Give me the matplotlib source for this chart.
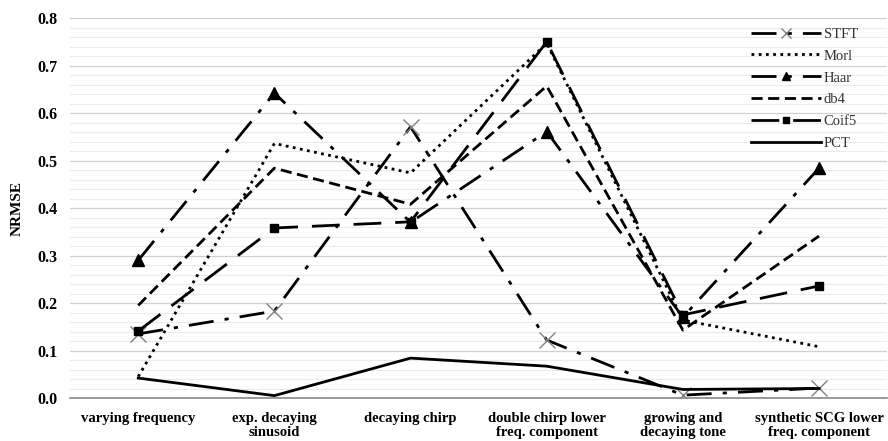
import numpy as np
import matplotlib
matplotlib.use("Agg")
import matplotlib.pyplot as plt
from matplotlib.ticker import MultipleLocator

plt.rcParams['font.family'] = ['Liberation Serif', 'DejaVu Serif']

categories = ["varying frequency", "exp. decaying\nsinusoid", "decaying chirp",
              "double chirp lower\nfreq. component", "growing and\ndecaying tone",
              "synthetic SCG lower\nfreq. component"]

stft = [0.135, 0.183, 0.571, 0.122, 0.006, 0.021]
morl = [0.045, 0.536, 0.474, 0.747, 0.164, 0.108]
haar = [0.290, 0.642, 0.370, 0.561, 0.170, 0.484]
db4 = [0.195, 0.484, 0.408, 0.657, 0.143, 0.341]
coif5 = [0.141, 0.358, 0.371, 0.750, 0.175, 0.236]
pct = [0.042, 0.005, 0.084, 0.067, 0.018, 0.020]

fig = plt.figure(figsize=(8.88, 4.41), dpi=100)
ax = fig.add_axes([0.079, 0.0975, 0.92, 0.8615])
x = np.arange(len(categories))

lw = 2.0
ax.plot(x, stft, color="black", lw=lw, dashes=(9, 4, 1.5, 4), marker="x",
        markersize=11, markeredgecolor="#808080", markeredgewidth=1.0, label="STFT")
ax.plot(x, morl, color="black", lw=lw, linestyle=(0, (1, 1.6)), label="Morl")
ax.plot(x, haar, color="black", lw=lw, dashes=(9, 4, 1.5, 4), marker="^",
        markersize=8, label="Haar")
ax.plot(x, db4, color="black", lw=lw, dashes=(4, 2), label="db4")
ax.plot(x, coif5, color="black", lw=lw, dashes=(10, 5), marker="s",
        markersize=6, label="Coif5")
ax.plot(x, pct, color="black", lw=lw, label="PCT")

ax.set_xlim(-0.5, len(categories) - 0.5)
ax.set_ylim(0, 0.8)
ax.yaxis.set_minor_locator(MultipleLocator(0.02))
ax.set_yticks(np.arange(0, 0.81, 0.1))
ax.set_yticklabels([f"{v:.1f}" for v in np.arange(0, 0.81, 0.1)],
                   fontweight="bold", fontsize=11.5)
ax.set_xticks(x)
ax.set_xticklabels(categories, fontweight="bold", fontsize=10.5, linespacing=1.15)
ax.tick_params(axis="both", length=0, which="both")
ax.tick_params(axis="y", pad=9)
ax.tick_params(axis="x", pad=10)

ax.grid(axis="y", which="major", color="#d0d0d0", lw=0.9)
ax.grid(axis="y", which="minor", color="#ebebeb", lw=0.8)
ax.set_axisbelow(True)
for s in ["top", "right", "left"]:
    ax.spines[s].set_visible(False)
ax.spines["bottom"].set_color("#888888")
ax.spines["bottom"].set_linewidth(1.2)

ax.set_ylabel("NRMSE", fontweight="bold", fontsize=11, labelpad=10)

leg = ax.legend(loc="upper right", bbox_to_anchor=(0.98, 1.01), frameon=False,
                fontsize=10.5, handlelength=4.8, handletextpad=0.2,
                labelspacing=0.6, markerscale=0.7)
for t in leg.get_texts():
    t.set_color("#333333")

fig.savefig("out.png", dpi=100)
